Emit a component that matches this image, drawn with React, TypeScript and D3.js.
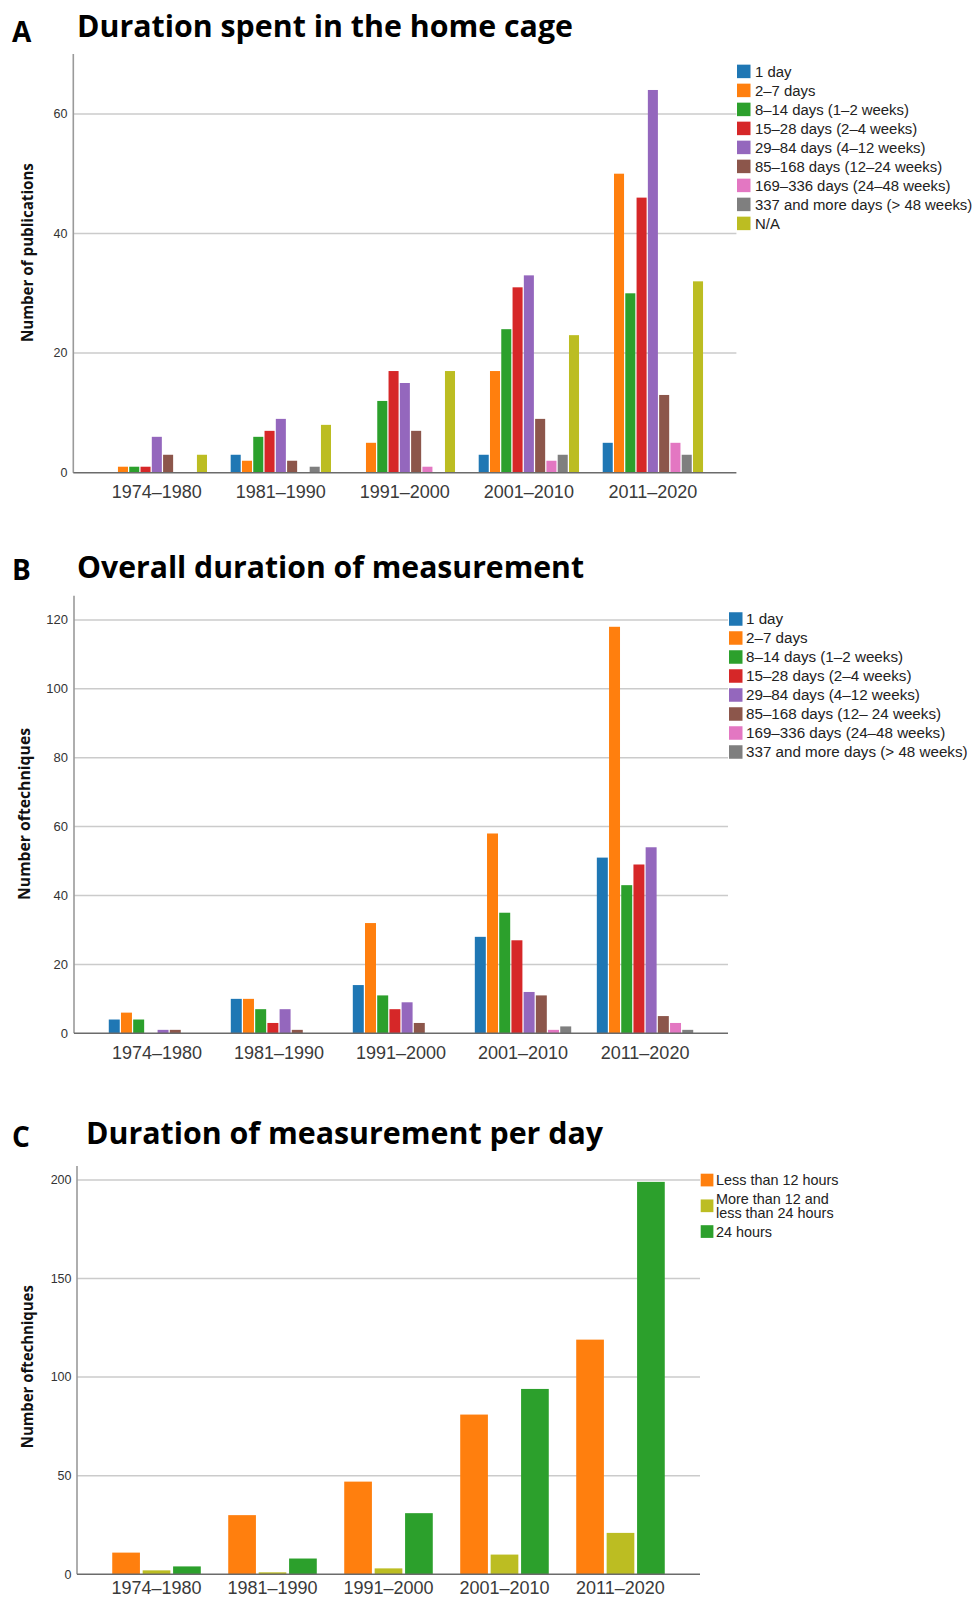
import React from 'react';
import * as d3 from 'd3';

// ---------- DATA ----------
const periods = ['1974–1980', '1981–1990', '1991–2000', '2001–2010', '2011–2020'];

const homeCageSeries = [
  '1 day',
  '2–7 days',
  '8–14 days (1–2 weeks)',
  '15–28 days (2–4 weeks)',
  '29–84 days (4–12 weeks)',
  '85–168 days (12–24 weeks)',
  '169–336 days (24–48 weeks)',
  '337 and more days (> 48 weeks)',
  'N/A',
];
// one row per series, one value per period
const homeCageValues = [
  [0, 3, 0, 3, 5],
  [1, 2, 5, 17, 50],
  [1, 6, 12, 24, 30],
  [1, 7, 17, 31, 46],
  [6, 9, 15, 33, 64],
  [3, 2, 7, 9, 13],
  [0, 0, 1, 2, 5],
  [0, 1, 0, 3, 3],
  [3, 8, 17, 23, 32],
];
const homeCageTicks = [0, 20, 40, 60];

const overallSeries = [
  '1 day',
  '2–7 days',
  '8–14 days (1–2 weeks)',
  '15–28 days (2–4 weeks)',
  '29–84 days (4–12 weeks)',
  '85–168 days (12– 24 weeks)',
  '169–336 days (24–48 weeks)',
  '337 and more days (> 48 weeks)',
];
const overallValues = [
  [4, 10, 14, 28, 51],
  [6, 10, 32, 58, 118],
  [4, 7, 11, 35, 43],
  [0, 3, 7, 27, 49],
  [1, 7, 9, 12, 54],
  [1, 1, 3, 11, 5],
  [0, 0, 0, 1, 3],
  [0, 0, 0, 2, 1],
];
const overallTicks = [0, 20, 40, 60, 80, 100, 120];

const perDaySeries = ['Less than 12 hours', 'More than 12 and\nless than 24 hours', '24 hours'];
const perDayValues = [
  [11, 30, 47, 81, 119],
  [2, 1, 3, 10, 21],
  [4, 8, 31, 94, 199],
];
const perDayTicks = [0, 50, 100, 150, 200];

const palette9 = ['#1f77b4', '#ff7f0e', '#2ca02c', '#d62728', '#9467bd', '#8c564b', '#e377c2', '#7f7f7f', '#bcbd22'];
const palette8 = palette9.slice(0, 8);
const palette3 = ['#ff7f0e', '#bcbd22', '#2ca02c'];

// ---------- COMPONENT ----------
type Layout = {
  letter: string; letterX: number; letterY: number;
  title: string; titleX: number; titleY: number; titleW: number;
  yTitle: string; yTitleX: number; yTitleY: number; yTitleW: number;
  x0: number; x1: number; yBase: number; yTop: number; yMax: number;
  padInner: number; padOuter: number; barPad: number;
  tickX: number; tickSize: number; xLabelDy: number;
  legX: number; legSq: number; legTextX: number; legTop: number;
  legLine: number; legGap: number; legFont: number;
};

const SANS = '"Liberation Sans", Arial, sans-serif';

function Panel({ series, values, colors, ticks, L }: {
  series: string[]; values: number[][]; colors: string[]; ticks: number[]; L: Layout;
}) {
  const x = d3.scaleBand<string>().domain(periods).range([L.x0, L.x1])
    .paddingInner(L.padInner).paddingOuter(L.padOuter);
  const inner = d3.scaleBand<number>().domain(d3.range(series.length))
    .range([0, x.bandwidth()]).paddingInner(L.barPad).paddingOuter(L.barPad / 2);
  const y = d3.scaleLinear().domain([0, L.yMax]).range([L.yBase, L.yTop]);

  // legend rows
  let cursor = L.legTop;
  const rows = series.map((s, i) => {
    const lines = s.split('\n');
    const h = lines.length * L.legLine + L.legGap;
    const top = cursor;
    cursor += h;
    return { lines, top, h, i };
  });

  return (
    <g>
      <text x={L.letterX} y={L.letterY} fontFamily='"Open Sans", sans-serif' fontWeight={700}
        fontSize={28} fill="#000">{L.letter}</text>
      <text x={L.titleX} y={L.titleY} fontFamily='"Open Sans", sans-serif' fontWeight={700}
        fontSize={30} fill="#000" textLength={L.titleW} lengthAdjust="spacingAndGlyphs">{L.title}</text>

      {/* gridlines */}
      {ticks.filter(t => t > 0).map(t => (
        <line key={t} x1={L.x0} x2={L.x1} y1={y(t)} y2={y(t)} stroke="#cbcbcb" strokeWidth={1.5} />
      ))}

      {/* bars */}
      {values.map((row, si) => row.map((v, pi) => v > 0 ? (
        <rect key={`${si}-${pi}`} x={(x(periods[pi]) as number) + (inner(si) as number)} y={y(v)}
          width={inner.bandwidth()} height={L.yBase - y(v)} fill={colors[si]} />
      ) : null))}

      {/* axes */}
      <line x1={L.x0} x2={L.x0} y1={L.yTop} y2={L.yBase} stroke="#9a9a9a" strokeWidth={1.6} />
      <line x1={L.x0} x2={L.x1} y1={L.yBase} y2={L.yBase} stroke="#6b6b6b" strokeWidth={1.6} />

      {/* y ticks */}
      {ticks.map(t => (
        <text key={t} x={L.tickX} y={y(t)} dy="0.35em" textAnchor="end" fontFamily={SANS}
          fontSize={L.tickSize} fill="#333">{t}</text>
      ))}

      {/* x labels */}
      {periods.map(p => (
        <text key={p} x={(x(p) as number) + x.bandwidth() / 2} y={L.yBase + L.xLabelDy} textAnchor="middle"
          fontFamily={SANS} fontSize={18} fill="#3a3a3a">{p}</text>
      ))}

      {/* y title */}
      <text transform={`translate(${L.yTitleX},${L.yTitleY}) rotate(-90)`} textAnchor="middle"
        fontFamily='"Open Sans", sans-serif' fontWeight={700} fontSize={15.5} fill="#111"
        textLength={L.yTitleW} lengthAdjust="spacingAndGlyphs">{L.yTitle}</text>

      {/* legend */}
      {rows.map(r => {
        const cy = r.top + r.h / 2;
        const textTop = cy - (r.lines.length * L.legLine) / 2;
        return (
          <g key={r.i}>
            <rect x={L.legX} y={cy - L.legSq / 2} width={L.legSq} height={L.legSq} fill={colors[r.i]} />
            {r.lines.map((ln, k) => (
              <text key={k} x={L.legTextX} y={textTop + (k + 0.5) * L.legLine} dy="0.36em"
                fontFamily={SANS} fontSize={L.legFont} fill="#222">{ln}</text>
            ))}
          </g>
        );
      })}
    </g>
  );
}

const layoutA: Layout = {
  letter: 'A', letterX: 12, letterY: 42,
  title: 'Duration spent in the home cage', titleX: 77, titleY: 37, titleW: 496,
  yTitle: 'Number of publications', yTitleX: 33, yTitleY: 252.6, yTitleW: 179,
  x0: 73.3, x1: 736.4, yBase: 472.7, yTop: 472.7 - 70 * 5.98, yMax: 70,
  padInner: 0.181, padOuter: 0.264, barPad: 0.11,
  tickX: 67.5, tickSize: 12.5, xLabelDy: 25.5,
  legX: 737, legSq: 13.5, legTextX: 755, legTop: 61.9,
  legLine: 15, legGap: 4, legFont: 14.9,
};

const layoutB: Layout = {
  letter: 'B', letterX: 12, letterY: 580,
  title: 'Overall duration of measurement', titleX: 77, titleY: 578.3, titleW: 507,
  yTitle: 'Number oftechniques', yTitleX: 30, yTitleY: 814, yTitleW: 172,
  x0: 74, x1: 728, yBase: 1033.3, yTop: 1033.3 - 127 * 3.445, yMax: 127,
  padInner: 0.2, padOuter: 0.28, barPad: 0.1,
  tickX: 68, tickSize: 13, xLabelDy: 25.5,
  legX: 729, legSq: 13.5, legTextX: 746, legTop: 609.5,
  legLine: 15, legGap: 4, legFont: 15.2,
};

const layoutC: Layout = {
  letter: 'C', letterX: 12, letterY: 1146.7,
  title: 'Duration of measurement per day', titleX: 86, titleY: 1144, titleW: 517,
  yTitle: 'Number oftechniques', yTitleX: 32.5, yTitleY: 1366.7, yTitleW: 163,
  x0: 77, x1: 700, yBase: 1574.3, yTop: 1574.3 - 207 * 1.972, yMax: 207,
  padInner: 0.213, padOuter: 0.292, barPad: 0.09,
  tickX: 71.5, tickSize: 12.5, xLabelDy: 19.3,
  legX: 700.7, legSq: 12.7, legTextX: 716, legTop: 1170.8,
  legLine: 14.5, legGap: 4, legFont: 14.4,
};

export default function App() {
  return (
    <div style={{ position: 'absolute', left: 0, top: 0, background: '#fff' }}>
      <svg width={976} height={1598} style={{ display: 'block' }}>
        <rect width={976} height={1598} fill="#fff" />
        <Panel series={homeCageSeries} values={homeCageValues} colors={palette9} ticks={homeCageTicks} L={layoutA} />
        <Panel series={overallSeries} values={overallValues} colors={palette8} ticks={overallTicks} L={layoutB} />
        <Panel series={perDaySeries} values={perDayValues} colors={palette3} ticks={perDayTicks} L={layoutC} />
      </svg>
    </div>
  );
}
